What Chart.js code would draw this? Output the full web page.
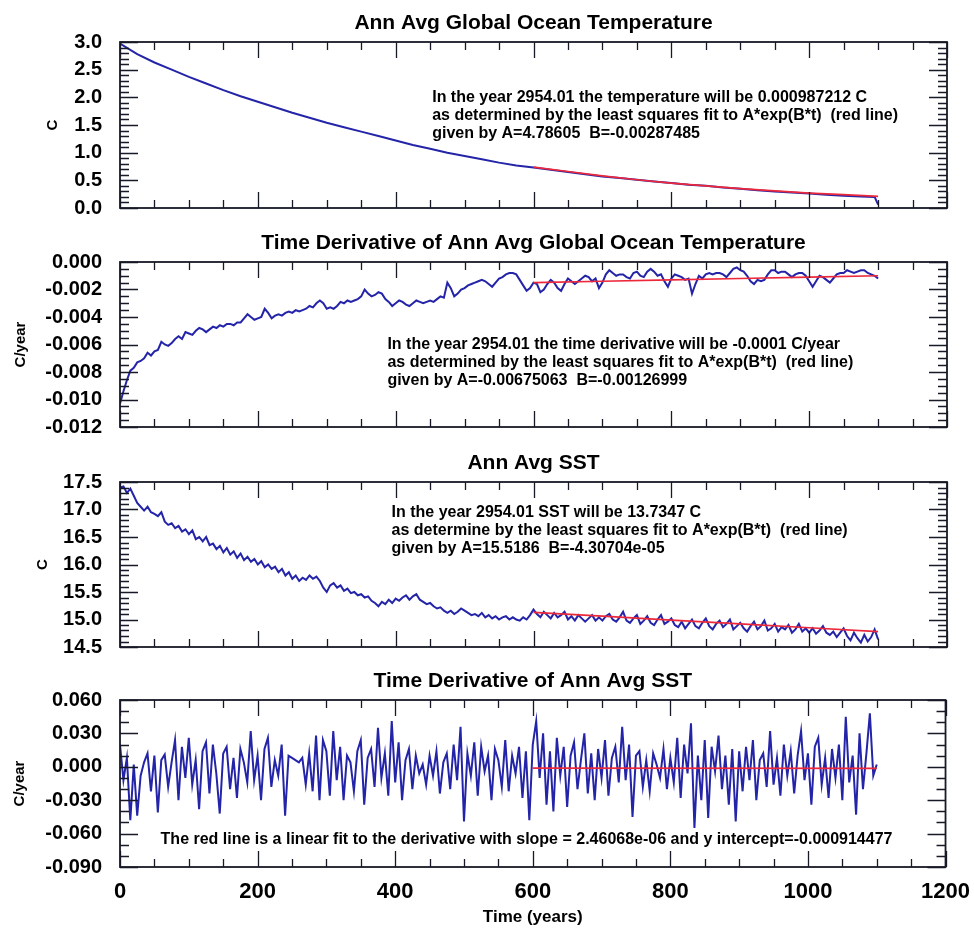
<!DOCTYPE html>
<html>
<head>
<meta charset="utf-8">
<title>Ann Avg Global Ocean Temperature</title>
<script src="https://cdn.jsdelivr.net/npm/chart.js@4.4.1/dist/chart.umd.min.js"></script>
<style>
  html, body { margin: 0; padding: 0; background: #fff; }
  #page { position: relative; width: 974px; height: 931px; overflow: hidden; }
  #page canvas { position: absolute; left: 0; }
</style>
</head>
<body>
<div id="page">
  <canvas id="oceanTemp" width="974" height="230" style="top:0px"></canvas>
  <canvas id="oceanDeriv" width="974" height="220" style="top:230px"></canvas>
  <canvas id="sst" width="974" height="220" style="top:450px"></canvas>
  <canvas id="sstDeriv" width="974" height="261" style="top:670px"></canvas>
</div>
<script>
// values (years since start of run)

// panel 1 - global ocean temperature
const tempYears = [0, 25, 50, 75, 100, 125, 150, 175, 200, 225, 250, 275, 300, 325, 350, 375, 400, 425, 450, 475,
  500, 525, 550, 575, 600, 625, 650, 675, 700, 725, 750, 775, 800, 825, 850, 875, 900, 925, 950, 975,
  1000, 1025, 1050, 1075, 1095, 1100];
const tempValues = [2.97, 2.78, 2.63, 2.50, 2.37, 2.25, 2.13, 2.02, 1.92, 1.82, 1.72, 1.63, 1.54, 1.46, 1.38, 1.30, 1.22, 1.14, 1.07, 1.00,
  0.94, 0.88, 0.82, 0.77, 0.73, 0.69, 0.65, 0.61, 0.57, 0.54, 0.51, 0.48, 0.45, 0.42, 0.40, 0.37, 0.35, 0.32, 0.30, 0.28,
  0.26, 0.24, 0.22, 0.21, 0.20, 0.06];
const tempFitYears = [600, 650, 700, 750, 800, 850, 900, 950, 1000, 1050, 1100];
const tempFit = [0.74, 0.66, 0.58, 0.51, 0.45, 0.40, 0.35, 0.31, 0.27, 0.24, 0.21];

// panels 2-4 are sampled every 5 years, 0..1100
const sampleYears = Array.from({ length: 221 }, (_, i) => i * 5);

// panel 2 - time derivative of ocean temperature (C/year)
const tempDeriv = [
  -0.0103, -0.0094, -0.0086, -0.0079, -0.0077, -0.0073, -0.0072, -0.0070, -0.0066, -0.0068, -0.0065, -0.0064, -0.0058, -0.0060, -0.0061, -0.0059, -0.0056, -0.0054, -0.0056, -0.0051,
  -0.0052, -0.0053, -0.0050, -0.0048, -0.0049, -0.0051, -0.0049, -0.0047, -0.0048, -0.0046, -0.0047, -0.0045, -0.0045, -0.0046, -0.0044, -0.0044, -0.0041, -0.0038, -0.0040, -0.0042,
  -0.0041, -0.0040, -0.0034, -0.0037, -0.0041, -0.0039, -0.0038, -0.0039, -0.0037, -0.0036, -0.0037, -0.0035, -0.0036, -0.0035, -0.0034, -0.0032, -0.0033, -0.0030, -0.0028, -0.0030,
  -0.0034, -0.0033, -0.0034, -0.0032, -0.0029, -0.0030, -0.0028, -0.0029, -0.0028, -0.0027, -0.0025, -0.0020, -0.0023, -0.0025, -0.0024, -0.0022, -0.0023, -0.0027, -0.0029, -0.0032,
  -0.0030, -0.0028, -0.0029, -0.0031, -0.0032, -0.0030, -0.0028, -0.0029, -0.0030, -0.0029, -0.0028, -0.0029, -0.0027, -0.0025, -0.0026, -0.0015, -0.0019, -0.0025, -0.0023, -0.0020,
  -0.0019, -0.0017, -0.0016, -0.0015, -0.0014, -0.0013, -0.0014, -0.0016, -0.0018, -0.0015, -0.0012, -0.0011, -0.0009, -0.0008, -0.0008, -0.0009, -0.0013, -0.0017, -0.0021, -0.0019,
  -0.0015, -0.0016, -0.0022, -0.0020, -0.0016, -0.0013, -0.0015, -0.0019, -0.0021, -0.0016, -0.0012, -0.0014, -0.0016, -0.0014, -0.0012, -0.0010, -0.0011, -0.0014, -0.0012, -0.0019,
  -0.0015, -0.0009, -0.0006, -0.0008, -0.0010, -0.0009, -0.0009, -0.0011, -0.0012, -0.0008, -0.0007, -0.0010, -0.0011, -0.0007, -0.0005, -0.0007, -0.0010, -0.0009, -0.0014, -0.0018,
  -0.0012, -0.0009, -0.0010, -0.0011, -0.0013, -0.0012, -0.0023, -0.0016, -0.0010, -0.0012, -0.0009, -0.0008, -0.0009, -0.0008, -0.0008, -0.0009, -0.0011, -0.0008, -0.0005, -0.0004,
  -0.0006, -0.0007, -0.0010, -0.0014, -0.0016, -0.0013, -0.0014, -0.0013, -0.0009, -0.0006, -0.0006, -0.0008, -0.0007, -0.0007, -0.0009, -0.0011, -0.0009, -0.0008, -0.0008, -0.0010,
  -0.0014, -0.0018, -0.0014, -0.0010, -0.0011, -0.0013, -0.0015, -0.0012, -0.0009, -0.0008, -0.0008, -0.0006, -0.0007, -0.0008, -0.0007, -0.0006, -0.0006, -0.0008, -0.0009, -0.0010,
  -0.0012];
const tempDerivFitYears = [600, 700, 800, 900, 1000, 1100];
const tempDerivFit = [-0.0015, -0.0014, -0.0013, -0.0012, -0.0011, -0.0010];

// panel 3 - sea surface temperature (C)
const sstValues = [
  17.40, 17.42, 17.30, 17.38, 17.25, 17.12, 17.05, 16.98, 17.05, 16.95, 16.92, 16.88, 16.95, 16.78, 16.72, 16.75, 16.66, 16.70, 16.60, 16.64,
  16.55, 16.62, 16.46, 16.50, 16.42, 16.50, 16.35, 16.38, 16.28, 16.34, 16.22, 16.30, 16.18, 16.24, 16.12, 16.20, 16.08, 16.14, 16.05, 16.10,
  16.00, 16.06, 15.95, 16.00, 15.92, 15.96, 15.86, 15.92, 15.80, 15.86, 15.74, 15.80, 15.70, 15.76, 15.72, 15.80, 15.74, 15.78, 15.70, 15.58,
  15.50, 15.62, 15.66, 15.58, 15.62, 15.52, 15.56, 15.48, 15.50, 15.44, 15.46, 15.40, 15.42, 15.34, 15.30, 15.24, 15.32, 15.28, 15.36, 15.30,
  15.38, 15.34, 15.40, 15.44, 15.36, 15.42, 15.46, 15.36, 15.32, 15.28, 15.30, 15.24, 15.20, 15.22, 15.16, 15.12, 15.16, 15.10, 15.14, 15.20,
  15.16, 15.12, 15.08, 15.10, 15.06, 15.12, 15.04, 15.08, 15.02, 15.06, 15.00, 15.04, 15.06, 15.00, 15.04, 15.00, 14.98, 15.04, 15.00, 15.08,
  15.18, 15.10, 15.04, 15.14, 15.08, 15.02, 15.12, 15.04, 15.08, 15.14, 15.00, 15.06, 14.98, 15.08, 15.02, 14.96, 15.02, 15.08, 14.98, 15.04,
  14.98, 15.06, 15.10, 15.00, 14.96, 15.04, 15.14, 14.98, 14.94, 15.02, 15.08, 14.92, 14.98, 15.06, 14.94, 14.90, 15.00, 15.08, 14.92, 14.96,
  15.02, 14.90, 14.86, 14.96, 14.84, 14.92, 15.00, 14.88, 14.84, 14.94, 15.02, 14.88, 14.82, 14.92, 14.98, 14.86, 14.92, 15.00, 14.82, 14.88,
  14.94, 14.84, 14.78, 14.88, 14.96, 14.82, 14.88, 14.98, 14.80, 14.84, 14.92, 14.78, 14.86, 14.82, 14.90, 14.76, 14.82, 14.92, 14.78, 14.84,
  14.76, 14.84, 14.74, 14.80, 14.88, 14.76, 14.72, 14.78, 14.68, 14.76, 14.84, 14.70, 14.62, 14.76, 14.66, 14.58, 14.72, 14.60, 14.68, 14.82,
  14.64];
const sstFitYears = [600, 700, 800, 900, 1000, 1100];
const sstFit = [15.13, 15.06, 14.99, 14.92, 14.85, 14.78];

// panel 4 - time derivative of SST (C/year)
const sstDeriv = [
  0.020, -0.012, 0.008, -0.048, 0.002, -0.044, -0.008, 0.004, 0.012, -0.022, 0.010, -0.041, 0.006, 0.011, -0.018, 0.004, 0.024, -0.030, 0.018, -0.010,
  0.026, -0.016, 0.006, -0.038, 0.014, 0.022, -0.024, 0.020, -0.006, -0.042, 0.012, 0.018, -0.020, 0.008, -0.028, 0.016, 0.004, -0.014, 0.032, -0.012,
  0.010, -0.030, 0.016, 0.026, -0.018, 0.006, -0.008, 0.020, -0.044, 0.010, 0.008, 0.006, 0.004, 0.008, -0.016, 0.012, -0.022, 0.028, -0.030, 0.024,
  0.014, -0.026, 0.032, -0.012, 0.018, -0.030, 0.010, 0.004, -0.022, 0.014, 0.024, -0.034, 0.008, 0.016, -0.018, 0.035, -0.010, 0.012, -0.026, 0.041,
  -0.014, 0.022, -0.030, 0.006, 0.016, -0.020, 0.010, -0.006, 0.002, -0.016, 0.010, -0.008, 0.014, -0.024, 0.004, 0.012, -0.020, 0.020, -0.012, 0.036,
  -0.049, 0.012, -0.008, 0.022, -0.026, 0.018, -0.004, 0.010, -0.030, 0.016, 0.006, -0.018, 0.024, -0.022, 0.010, -0.006, 0.018, -0.028, 0.014, -0.048,
  0.020, 0.041, -0.010, 0.030, -0.034, 0.014, -0.040, 0.026, -0.008, 0.018, -0.036, 0.010, 0.022, -0.020, 0.006, 0.030, -0.024, 0.012, -0.030, 0.016,
  -0.010, 0.024, -0.026, 0.008, 0.018, -0.014, 0.036, -0.012, 0.020, -0.045, 0.010, 0.014, -0.018, 0.006, -0.022, 0.012, 0.002, -0.010, 0.016, -0.020,
  0.008, -0.014, 0.026, -0.028, 0.020, -0.006, 0.039, -0.055, 0.010, -0.030, 0.024, -0.046, 0.018, -0.004, 0.028, -0.020, 0.010, -0.034, 0.016, -0.049,
  0.014, -0.022, 0.018, -0.012, 0.024, -0.030, 0.006, 0.012, -0.018, 0.032, -0.016, 0.008, -0.026, 0.020, -0.008, 0.014, -0.024, 0.010, 0.032, -0.012,
  0.012, -0.034, 0.018, 0.026, -0.016, 0.008, -0.028, 0.016, -0.010, 0.020, -0.030, 0.045, -0.014, 0.010, -0.043, 0.030, -0.020, 0.012, 0.048, -0.008,
  0.002];
const sstDerivFitYears = [600, 1100];
const sstDerivFit = [-0.0012, -0.0015];

// text printed inside each panel
const tempNote = [
  'In the year 2954.01 the temperature will be 0.000987212 C',
  'as determined by the least squares fit to A*exp(B*t)  (red line)',
  'given by A=4.78605  B=-0.00287485'
];
const tempDerivNote = [
  'In the year 2954.01 the time derivative will be -0.0001 C/year',
  'as determined by the least squares fit to A*exp(B*t)  (red line)',
  'given by A=-0.00675063  B=-0.00126999'
];
const sstNote = [
  'In the year 2954.01 SST will be 13.7347 C',
  'as determine by the least squares fit to A*exp(B*t)  (red line)',
  'given by A=15.5186  B=-4.30704e-05'
];
const sstDerivNote = [
  'The red line is a linear fit to the derivative with slope = 2.46068e-06 and y intercept=-0.000914477'
];

const FONT = "'Liberation Sans', Arial, Helvetica, sans-serif";
const BLUE = 'rgb(36,36,168)';
const RED = 'rgb(236,40,58)';

Chart.defaults.font.family = FONT;
Chart.defaults.color = '#000';

const pts = (xs, ys) => ys.map((v, i) => ({ x: xs[i], y: v }));

// box round the plot plus inward major/minor ticks on all four sides
const frame = {
  id: 'frame',
  afterDatasetsDraw(chart, args, o) {
    const { ctx, chartArea: a } = chart;
    const x = chart.scales.x, y = chart.scales.y;
    ctx.save();
    ctx.strokeStyle = '#171a26';
    ctx.lineWidth = 1.3;
    ctx.beginPath();
    for (let v = 0; v <= 1200; v += 50) {
      const px = Math.round(x.getPixelForValue(v)) + 0.5;
      const len = v % 200 === 0 ? 16 : 8;
      ctx.moveTo(px, a.bottom); ctx.lineTo(px, a.bottom - len);
      ctx.moveTo(px, a.top); ctx.lineTo(px, a.top + len);
    }
    const n = Math.round((y.max - y.min) / o.minor);
    for (let i = 0; i <= n; i++) {
      const py = Math.round(y.getPixelForValue(y.min + i * o.minor)) + 0.5;
      const len = i % o.per === 0 ? 18 : 9;
      ctx.moveTo(a.left, py); ctx.lineTo(a.left + len, py);
      ctx.moveTo(a.right, py); ctx.lineTo(a.right - len, py);
    }
    ctx.stroke();
    ctx.lineWidth = 1.8;
    ctx.strokeRect(a.left, a.top, a.width, a.height);
    ctx.restore();
  }
};

// panel title and the fit description
const notes = {
  id: 'notes',
  afterDraw(chart, args, o) {
    const { ctx, chartArea: a } = chart;
    const x = chart.scales.x, y = chart.scales.y;
    ctx.save();
    ctx.fillStyle = '#000';
    ctx.textBaseline = 'middle';
    ctx.textAlign = 'center';
    ctx.font = `bold 21px ${FONT}`;
    ctx.fillText(o.title, (a.left + a.right) / 2, a.top - 19);
    ctx.textAlign = 'left';
    ctx.font = `bold 16px ${FONT}`;
    const x0 = x.getPixelForValue(o.at[0]);
    const y0 = y.getPixelForValue(o.at[1]);
    o.lines.forEach((s, i) => ctx.fillText(s, x0, y0 + i * 18));
    ctx.restore();
  }
};

function panel(id, p) {
  return new Chart(document.getElementById(id), {
    type: 'line',
    data: {
      datasets: [
        { data: pts(p.fitYears, p.fit), borderColor: RED, borderWidth: 1.7, pointRadius: 0, order: 0 },
        { data: pts(p.years, p.values), borderColor: BLUE, borderWidth: 2, pointRadius: 0, order: 1 }
      ]
    },
    options: {
      responsive: false,
      animation: false,
      events: [],
      layout: { padding: { left: 0, right: 27, top: p.padTop, bottom: p.padBottom } },
      plugins: {
        legend: { display: false },
        tooltip: { enabled: false },
        frame: { minor: p.minor, per: p.per },
        notes: { title: p.title, lines: p.note, at: p.noteAt }
      },
      scales: {
        x: p.showX ? {
          type: 'linear', min: 0, max: 1200,
          grid: { display: false },
          border: { display: false },
          ticks: { stepSize: 200, padding: 4, maxRotation: 0, font: { size: 22, weight: 'bold' }, callback: v => String(v) },
          title: { display: true, text: 'Time (years)', font: { size: 17, weight: 'bold' }, padding: { top: 0, bottom: 3 } },
          afterFit: s => { s.height = 64; }
        } : { type: 'linear', min: 0, max: 1200, display: false },
        y: {
          min: p.min, max: p.max,
          grid: { display: false },
          border: { display: false },
          ticks: { stepSize: p.step, padding: 10, font: { size: 20, weight: 'bold' }, callback: v => v.toFixed(p.decimals) },
          title: { display: true, text: p.yTitle, font: { size: 15, weight: 'bold' }, padding: { top: p.yTitlePad, bottom: 0 } },
          afterFit: s => { s.width = 120; }
        }
      }
    },
    plugins: [frame, notes]
  });
}

panel('oceanTemp', {
  title: 'Ann Avg Global Ocean Temperature',
  years: tempYears, values: tempValues, fitYears: tempFitYears, fit: tempFit,
  min: 0, max: 3, step: 0.5, minor: 0.1, per: 5, decimals: 1,
  yTitle: 'C', yTitlePad: 44, padTop: 42, padBottom: 22,
  note: tempNote, noteAt: [453, 1.99]
});

panel('oceanDeriv', {
  title: 'Time Derivative of Ann Avg Global Ocean Temperature',
  years: sampleYears, values: tempDeriv, fitYears: tempDerivFitYears, fit: tempDerivFit,
  min: -0.012, max: 0, step: 0.002, minor: 0.0005, per: 4, decimals: 3,
  yTitle: 'C/year', yTitlePad: 12, padTop: 32, padBottom: 23,
  note: tempDerivNote, noteAt: [388, -0.00604]
});

panel('sst', {
  title: 'Ann Avg SST',
  years: sampleYears, values: sstValues, fitYears: sstFitYears, fit: sstFit,
  min: 14.5, max: 17.5, step: 0.5, minor: 0.1, per: 5, decimals: 1,
  yTitle: 'C', yTitlePad: 34, padTop: 32, padBottom: 23,
  note: sstNote, noteAt: [394, 16.95]
});

panel('sstDeriv', {
  title: 'Time Derivative of Ann Avg SST',
  years: sampleYears, values: sstDeriv, fitYears: sstDerivFitYears, fit: sstDerivFit,
  min: -0.09, max: 0.06, step: 0.03, minor: 0.01, per: 3, decimals: 3,
  yTitle: 'C/year', yTitlePad: 11, padTop: 30, padBottom: 0, showX: true,
  note: sstDerivNote, noteAt: [59, -0.0656]
});
</script>
</body>
</html>
